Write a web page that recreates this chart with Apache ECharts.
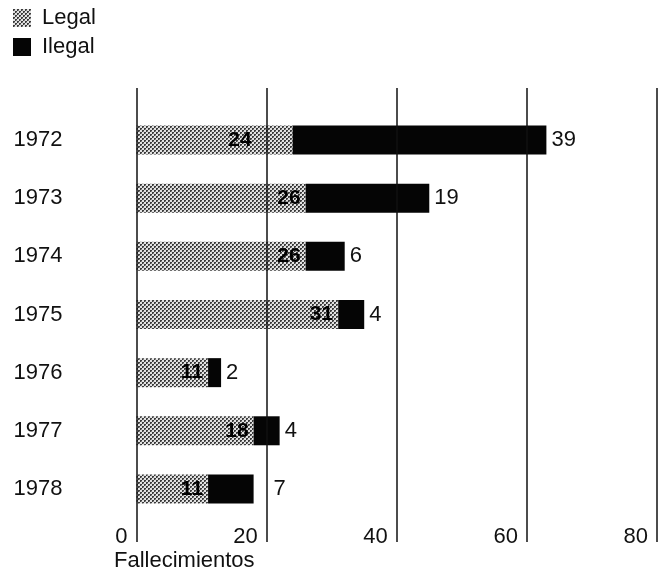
<!DOCTYPE html>
<html>
<head>
<meta charset="utf-8">
<script src="https://cdn.jsdelivr.net/npm/echarts@6/dist/echarts.min.js"></script>
<style>html,body{margin:0;padding:0;background:#fff}#c{width:667px;height:572px}</style>
</head>
<body>
<div id="c"></div>
<script>
const years = ['1972','1973','1974','1975','1976','1977','1978'];
const legal = [24, 26, 26, 31, 11, 18, 11];
const illegal = [39, 19, 6, 4, 2, 4, 7];
const axisMin = 0, axisMax = 80, axisStep = 20;

const FONT = "'Liberation Sans', Arial, Helvetica, sans-serif";

// dithered gray pattern for "Legal"
const pc = document.createElement('canvas');
pc.width = 4; pc.height = 4;
const g = pc.getContext('2d');
g.fillStyle = '#e2e2e2'; g.fillRect(0,0,4,4);
g.fillStyle = '#3c3c3c';
g.fillRect(0,0,2,1); g.fillRect(0,1,1,1);
g.fillRect(2,2,2,1); g.fillRect(2,3,1,1);
g.fillStyle = '#8a8a8a';
g.fillRect(1,1,1,1); g.fillRect(3,3,1,1);
const pattern = { image: pc, repeat: 'repeat' };

const legalData = legal.map((v, i) => i === 0 ? { value: v, label: { offset: [-36, 0] } } : v);
const illegalData = illegal.map((v, i) => i === 6 ? { value: v, label: { offset: [15, 0] } } : v);

const chart = echarts.init(document.getElementById('c'), null, { renderer: 'canvas' });
chart.setOption({
  animation: false,
  backgroundColor: '#fff',
  textStyle: { fontFamily: FONT },
  title: {
    text: 'Fallecimientos',
    left: 114, top: 550,
    padding: 0,
    textStyle: { fontFamily: FONT, fontSize: 22, fontWeight: 'normal', color: '#111' }
  },
  legend: {
    orient: 'vertical',
    left: 13, top: 7,
    padding: 0,
    itemWidth: 18, itemHeight: 18, itemGap: 7,
    icon: 'rect',
    data: [{ name: 'Legal', itemStyle: { color: pattern } }, { name: 'Ilegal' }],
    textStyle: { fontFamily: FONT, fontSize: 22, color: '#111', padding: [0, 0, 0, 6] }
  },
  grid: [
    { left: 136.5, right: 10, top: 111, bottom: 54 },
    { left: 136.5, right: 10, top: 88, bottom: 30 }
  ],
  xAxis: [
    { gridIndex: 0, type: 'value', min: axisMin, max: axisMax, interval: axisStep, show: false },
    {
      gridIndex: 1, type: 'value', min: axisMin, max: axisMax, interval: axisStep, z: 10,
      axisLine: { show: false }, axisTick: { show: false },
      splitLine: { show: true, lineStyle: { color: '#111', width: 1.5 } },
      axisLabel: {
        fontFamily: FONT, fontSize: 22, color: '#111',
        align: 'right', verticalAlign: 'bottom', margin: 6,
        padding: [0, 9, 0, 0]
      }
    }
  ],
  yAxis: [
    {
      gridIndex: 0, type: 'category', data: years, inverse: true,
      axisLine: { show: false }, axisTick: { show: false }, splitLine: { show: false },
      axisLabel: { fontFamily: FONT, fontSize: 22, color: '#111', align: 'left', margin: 123 }
    },
    { gridIndex: 1, type: 'value', show: false, min: 0, max: 1 }
  ],
  series: [
    {
      name: 'Legal', type: 'bar', stack: 'total', xAxisIndex: 0, yAxisIndex: 0,
      barWidth: 29,
      itemStyle: { color: pattern },
      label: {
        show: true, position: 'insideRight', distance: 5,
        fontFamily: FONT, fontSize: 21, fontWeight: 'bold', color: '#000'
      },
      data: legalData
    },
    {
      name: 'Ilegal', type: 'bar', stack: 'total', xAxisIndex: 0, yAxisIndex: 0,
      barWidth: 29,
      itemStyle: { color: '#050505' },
      label: {
        show: true, position: 'right', distance: 5,
        fontFamily: FONT, fontSize: 22, fontWeight: 'normal', color: '#111'
      },
      data: illegalData
    }
  ]
});
</script>
</body>
</html>
